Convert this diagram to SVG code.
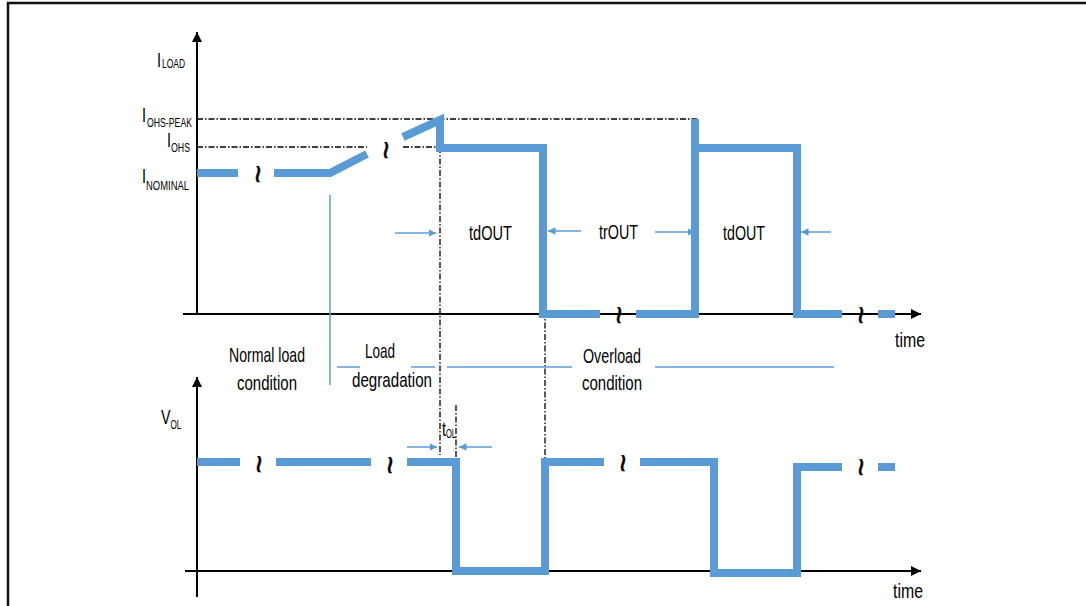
<svg xmlns="http://www.w3.org/2000/svg" width="1086" height="606" viewBox="0 0 1086 606">
<defs>
<style>
.wave{fill:none;stroke:#5B9BD5;stroke-width:8;stroke-linejoin:miter;stroke-linecap:butt}
.thin{fill:none;stroke:#5B9BD5;stroke-width:1.5}
.axis{fill:none;stroke:#000;stroke-width:2}
.dd{fill:none;stroke:#000;stroke-width:1.3;stroke-dasharray:6,2,1.5,2}
.lbl{font-family:"Liberation Sans",Arial,sans-serif;font-size:21px;fill:#000}
.sub{font-family:"Liberation Sans",Arial,sans-serif;font-size:12px;fill:#000}
.brk{font-family:"Liberation Sans",Arial,sans-serif;font-size:32px;fill:#000;stroke:#000;stroke-width:0.5}
</style>
<marker id="ah" viewBox="0 0 10 10" refX="10" refY="5" markerWidth="5" markerHeight="5" orient="auto" markerUnits="strokeWidth"><path d="M0,0 L10,5 L0,10 Z" fill="#000"/></marker>
<marker id="bh" viewBox="0 0 10 10" refX="10" refY="5" markerWidth="5" markerHeight="5" orient="auto" markerUnits="strokeWidth"><path d="M0,0 L10,5 L0,10 Z" fill="#5B9BD5"/></marker>
</defs>
<rect width="1086" height="606" fill="#fff"/>
<path d="M8,606 V3 H1086" fill="none" stroke="#111" stroke-width="2.5"/>

<g id="axes">
<line class="axis" x1="197" y1="315" x2="197" y2="32" marker-end="url(#ah)"/>
<line class="axis" x1="183" y1="314" x2="921" y2="314" marker-end="url(#ah)"/>
<line class="axis" x1="197" y1="597" x2="197" y2="377" marker-end="url(#ah)"/>
<line class="axis" x1="185" y1="571" x2="921" y2="571" marker-end="url(#ah)"/>
</g>

<g id="guides">
<line class="dd" x1="197" y1="119" x2="697" y2="119"/>
<line class="dd" x1="197" y1="147" x2="367" y2="147"/>
<line class="dd" x1="403" y1="147" x2="440" y2="147"/>
<line class="dd" x1="440" y1="147" x2="440" y2="455"/>
<line class="dd" x1="545" y1="150" x2="545" y2="460"/>
<line class="dd" x1="456" y1="405" x2="456" y2="470"/>
</g>

<g id="iload-wave">
<path class="wave" d="M197,173 H238 M274,173 H330 L367,154 M403,137 L440,120 V148 H543 V314 H600 M636,314 H695 V119 M695,148 H797 V314 H842 M878,314 H895"/>
</g>

<g id="vol-wave">
<path class="wave" d="M197,462 H240 M276,462 H371 M407,462 H456 V571 H545 V462 H604 M640,462 H714 V573 H797 V467 H842 M878,467 H895"/>
</g>

<g id="breaks">
<text class="brk" transform="translate(257,174) rotate(90)" text-anchor="middle" y="10">~</text>
<text class="brk" transform="translate(385,150) rotate(90)" text-anchor="middle" y="10">~</text>
<text class="brk" transform="translate(618,315) rotate(90)" text-anchor="middle" y="10">~</text>
<text class="brk" transform="translate(860,315) rotate(90)" text-anchor="middle" y="10">~</text>
<text class="brk" transform="translate(258,464) rotate(90)" text-anchor="middle" y="10">~</text>
<text class="brk" transform="translate(389,465) rotate(90)" text-anchor="middle" y="10">~</text>
<text class="brk" transform="translate(622,463) rotate(90)" text-anchor="middle" y="10">~</text>
<text class="brk" transform="translate(860,467) rotate(90)" text-anchor="middle" y="10">~</text>
</g>

<g id="connectors">
<line class="thin" x1="330" y1="195" x2="330" y2="385"/>
<line class="thin" x1="337" y1="367" x2="360" y2="367"/>
<line class="thin" x1="411" y1="367" x2="435" y2="367"/>
<line class="thin" x1="447" y1="367" x2="572" y2="367"/>
<line class="thin" x1="655" y1="367" x2="834" y2="367"/>
<line class="thin" x1="395" y1="233" x2="436" y2="233" marker-end="url(#bh)"/>
<line class="thin" x1="581" y1="231" x2="548" y2="231" marker-end="url(#bh)"/>
<line class="thin" x1="655" y1="232" x2="695" y2="232" marker-end="url(#bh)"/>
<line class="thin" x1="831" y1="232" x2="801" y2="232" marker-end="url(#bh)"/>
<line class="thin" x1="407" y1="447" x2="437" y2="447" marker-end="url(#bh)"/>
<line class="thin" x1="492" y1="447" x2="459" y2="447" marker-end="url(#bh)"/>
</g>

<g id="axis-labels">
<text class="lbl" x="157" y="67" font-size="22" textLength="4" lengthAdjust="spacingAndGlyphs">I</text>
<text class="sub" x="162" y="68" font-size="11" textLength="23" lengthAdjust="spacingAndGlyphs">LOAD</text>
<text class="lbl" x="142" y="122" font-size="22" textLength="4" lengthAdjust="spacingAndGlyphs">I</text>
<text class="sub" x="147" y="127" textLength="45" lengthAdjust="spacingAndGlyphs">OHS-PEAK</text>
<text class="lbl" x="167" y="147" font-size="22" textLength="4" lengthAdjust="spacingAndGlyphs">I</text>
<text class="sub" x="171" y="152" textLength="19" lengthAdjust="spacingAndGlyphs">OHS</text>
<text class="lbl" x="142" y="183" font-size="22" textLength="4" lengthAdjust="spacingAndGlyphs">I</text>
<text class="sub" x="146" y="190" textLength="43" lengthAdjust="spacingAndGlyphs">NOMINAL</text>
<text class="lbl" transform="translate(161,424) scale(0.68,1)">V<tspan font-size="12" dy="5">OL</tspan></text>
<text class="lbl" x="895" y="347" font-size="19" textLength="30" lengthAdjust="spacingAndGlyphs">time</text>
<text class="lbl" x="893" y="598" font-size="19" textLength="30" lengthAdjust="spacingAndGlyphs">time</text>
</g>

<g id="timing-labels">
<text class="lbl" x="469" y="240" textLength="43" lengthAdjust="spacingAndGlyphs">tdOUT</text>
<text class="lbl" x="599" y="239" textLength="39" lengthAdjust="spacingAndGlyphs">trOUT</text>
<text class="lbl" x="723" y="240" textLength="42" lengthAdjust="spacingAndGlyphs">tdOUT</text>
<text class="lbl" x="442" y="436" font-size="15" textLength="4" lengthAdjust="spacingAndGlyphs">t</text>
<text class="sub" x="446" y="438" font-size="10" textLength="10" lengthAdjust="spacingAndGlyphs">OL</text>
</g>

<g id="region-labels">
<text class="lbl" x="229" y="362" textLength="76" lengthAdjust="spacingAndGlyphs">Normal load</text>
<text class="lbl" x="237" y="390" textLength="60" lengthAdjust="spacingAndGlyphs">condition</text>
<text class="lbl" x="365" y="358" textLength="30" lengthAdjust="spacingAndGlyphs">Load</text>
<text class="lbl" x="352" y="387" textLength="80" lengthAdjust="spacingAndGlyphs">degradation</text>
<text class="lbl" x="583" y="363" textLength="58" lengthAdjust="spacingAndGlyphs">Overload</text>
<text class="lbl" x="582" y="390" textLength="60" lengthAdjust="spacingAndGlyphs">condition</text>
</g>
</svg>
